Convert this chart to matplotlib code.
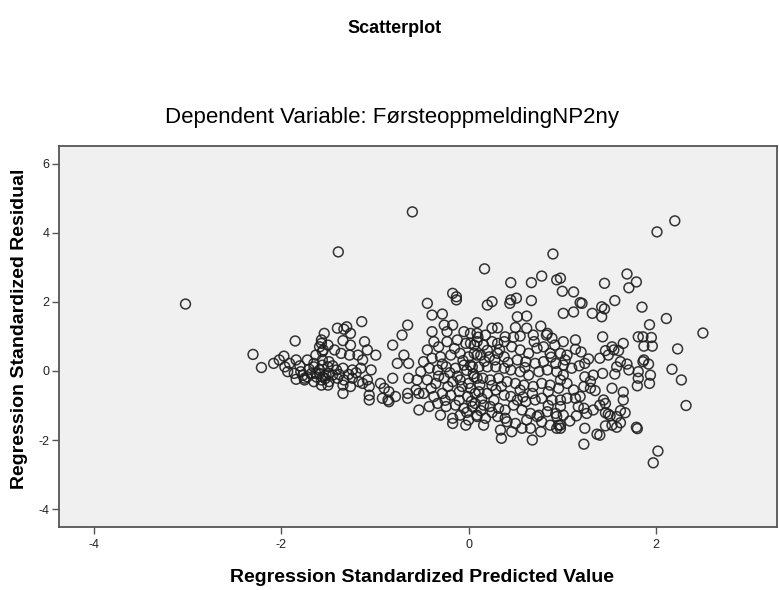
import matplotlib
matplotlib.use("Agg")
import matplotlib.pyplot as plt

plt.rcParams['font.family'] = ['Liberation Sans', 'DejaVu Sans']

title_text = "Scatterplot"
subtitle_text = "Dependent Variable: FørsteoppmeldingNP2ny"
x_label = "Regression Standardized Predicted Value"
y_label = "Regression Standardized Residual"
x_ticks = [-4, -2, 0, 2]
y_ticks = [-4, -2, 0, 2, 4, 6]

# (predicted, residual) pairs
outlier_points = [(-3.02, 1.94), (-1.39, 3.45), (-0.60, 4.61), (2.20, 4.35), (2.01, 4.03),
                  (2.50, 1.10), (0.90, 3.39), (0.17, 2.96)]

right_points = [(1.45, 2.54), (1.69, 2.81), (1.79, 2.58), (1.71, 2.41), (1.56, 2.04), (1.85, 1.85),
                (2.11, 1.52), (1.93, 1.34), (1.42, 1.86), (1.45, 1.80), (1.42, 1.57), (1.43, 0.99),
                (1.81, 0.99), (1.86, 0.99), (1.95, 0.97), (1.87, 0.72), (1.96, 0.72), (2.23, 0.64),
                (1.65, 0.80), (1.53, 0.70), (1.46, 0.59), (1.55, 0.61), (1.49, 0.46), (1.60, 0.59),
                (1.40, 0.37), (1.87, 0.32), (1.86, 0.27), (1.92, 0.20), (1.62, 0.27), (1.69, 0.20),
                (1.71, 0.03), (1.58, 0.12), (1.56, -0.09), (1.43, -0.07), (1.81, -0.02), (1.81, -0.21),
                (1.80, -0.43), (1.94, -0.12), (1.93, -0.36), (2.17, 0.05), (2.27, -0.26), (2.32, -1.00),
                (1.53, -0.50), (1.65, -0.61), (1.65, -0.84), (1.44, -0.84), (1.46, -0.94), (1.40, -0.99),
                (1.46, -1.21), (1.49, -1.25), (1.62, -1.15), (1.67, -1.21), (1.58, -1.32), (1.46, -1.59),
                (1.53, -1.57), (1.58, -1.63), (1.62, -1.50), (1.40, -1.86), (1.79, -1.63), (1.80, -1.67),
                (2.02, -2.32), (1.97, -2.66)]

mid_right_points = [(1.19, 1.98), (1.21, 1.96), (1.01, 1.67), (1.12, 1.71), (1.32, 1.67), (1.01, 0.85),
                    (1.14, 0.90), (1.14, 0.63), (0.98, 0.51), (1.05, 0.46), (1.03, 0.32), (1.10, 0.08),
                    (0.98, -0.26), (1.24, 0.22), (1.24, -0.17), (1.33, -0.12), (1.23, -0.45), (1.30, -0.50),
                    (1.35, -0.57), (1.19, -0.74), (1.05, -0.79), (1.14, -0.79), (0.98, -0.84), (0.98, -1.03),
                    (1.17, -1.03), (1.23, -1.08), (1.33, -1.13), (1.26, -1.23), (1.51, -1.30), (0.98, -1.57),
                    (0.98, -1.66), (1.24, -1.66), (1.37, -1.83), (1.23, -2.12),
                    (0.70, 0.85), (0.92, 0.75), (1.20, 0.55), (1.28, 0.35), (1.18, 0.15), (1.30, -0.30),
                    (1.12, -0.55), (0.85, -0.60), (0.68, -0.65), (0.55, -0.55), (0.60, 0.10), (0.88, 0.40),
                    (1.08, -1.45), (1.15, -1.30), (0.85, -1.00), (0.58, -0.75)]

upper_mid_points = [(0.45, 2.56), (0.67, 2.56), (0.78, 2.75), (0.94, 2.64), (0.98, 2.69), (1.00, 2.31),
                    (1.12, 2.29), (0.20, 1.91), (0.25, 2.01), (0.45, 2.06), (0.51, 2.11), (0.44, 1.96),
                    (0.67, 2.04), (0.52, 1.57), (0.62, 1.59), (0.09, 1.40), (0.25, 1.24), (0.31, 1.25),
                    (0.50, 1.26), (0.62, 1.24), (0.77, 1.30), (0.83, 1.04), (0.69, 1.04), (0.35, -1.95),
                    (0.68, -2.00)]

center_right_points = [(0.02, 1.09), (0.09, 1.09), (0.18, 1.04), (0.39, 0.99), (0.48, 0.98), (0.55, 1.01),
                       (0.84, 1.09), (0.89, 0.95), (0.02, 0.80), (0.09, 0.85), (0.16, 0.75), (0.25, 0.85),
                       (0.31, 0.80), (0.38, 0.85), (0.46, 0.70), (0.55, 0.61), (0.64, 0.51), (0.73, 0.66),
                       (0.80, 0.70), (0.87, 0.51), (0.06, 0.51), (0.13, 0.46), (0.22, 0.41), (0.31, 0.51),
                       (0.38, 0.41), (0.52, 0.32), (0.61, 0.27), (0.71, 0.22), (0.80, 0.27), (0.93, 0.22),
                       (1.01, 0.17), (0.02, 0.17), (0.11, 0.12), (0.20, 0.12), (0.29, 0.12), (0.38, 0.08),
                       (0.45, 0.03), (0.55, -0.02), (0.64, -0.12), (0.75, -0.02), (0.84, 0.03), (0.94, -0.02),
                       (1.01, -0.12), (0.06, -0.17), (0.15, -0.21), (0.23, -0.26), (0.32, -0.21), (0.41, -0.31),
                       (0.50, -0.36), (0.59, -0.41), (0.69, -0.45), (0.78, -0.36), (0.87, -0.41), (0.96, -0.50),
                       (1.05, -0.36), (0.02, -0.50), (0.11, -0.60), (0.20, -0.65), (0.29, -0.55), (0.38, -0.70),
                       (0.45, -0.74), (0.52, -0.84), (0.61, -0.89), (0.71, -0.84), (0.78, -0.79), (0.89, -0.84),
                       (0.07, -0.94), (0.16, -0.99), (0.23, -1.03), (0.32, -1.08), (0.39, -1.13), (0.48, -0.99),
                       (0.57, -1.13), (0.66, -1.23), (0.75, -1.28), (0.84, -1.18), (0.93, -1.23), (1.01, -1.28),
                       (0.09, -1.28), (0.18, -1.37), (0.31, -1.32), (0.39, -1.37), (0.41, -1.47), (0.50, -1.52),
                       (0.62, -1.42), (0.73, -1.32), (0.78, -1.47), (0.87, -1.57), (0.94, -1.32), (0.96, -1.57),
                       (0.16, -1.57), (0.34, -1.71), (0.46, -1.76), (0.57, -1.66), (0.66, -1.66), (0.77, -1.76),
                       (0.94, -1.66)]

center_left_points = [(-0.44, 1.96), (-0.13, 2.06), (-0.39, 1.62), (-0.28, 1.65), (-0.65, 1.33), (-0.71, 1.04),
                      (-0.81, 0.75), (-0.39, 1.14), (-0.26, 1.33), (-0.17, 1.33), (-0.23, 1.14), (-0.05, 1.14),
                      (-0.69, 0.46), (-0.76, 0.22), (-0.64, 0.22), (-0.44, 0.61), (-0.37, 0.85), (-0.32, 0.70),
                      (-0.23, 0.85), (-0.12, 0.90), (-0.03, 0.80), (0.06, 0.75), (-0.48, 0.27), (-0.39, 0.37),
                      (-0.30, 0.41), (-0.19, 0.46), (-0.09, 0.51), (0.00, 0.41), (0.09, 0.46), (-0.51, -0.02),
                      (-0.42, 0.08), (-0.33, 0.03), (-0.24, 0.12), (-0.14, 0.08), (-0.05, 0.17), (0.04, 0.12),
                      (-0.81, -0.21), (-0.64, -0.21), (-0.55, -0.26), (-0.44, -0.26), (-0.35, -0.36),
                      (-0.26, -0.21), (-0.17, -0.31), (-0.09, -0.26), (0.00, -0.36), (0.09, -0.21),
                      (-0.90, -0.50), (-0.85, -0.60), (-0.78, -0.74), (-0.86, -0.84), (-0.65, -0.65),
                      (-0.56, -0.55), (-0.48, -0.65), (-0.37, -0.74), (-0.28, -0.65), (-0.19, -0.70),
                      (-0.10, -0.60), (-0.01, -0.74), (0.07, -0.65), (-0.53, -1.13), (-0.42, -1.03),
                      (-0.33, -0.94), (-0.24, -1.03), (-0.14, -0.99), (-0.05, -1.08), (0.04, -1.03),
                      (-0.30, -1.28), (-0.17, -1.37), (-0.09, -1.28), (0.00, -1.42), (0.09, -1.32),
                      (-0.03, -1.57), (-0.17, -1.52), (-0.17, 2.25), (-0.13, 2.15)]

center_dense_points = [(-0.28, 0.20), (-0.20, -0.05), (-0.12, -0.15), (-0.02, 0.02), (0.05, -0.08),
                       (0.12, -0.40), (0.17, 0.28), (0.25, -0.42), (0.20, 0.60), (-0.06, 0.30),
                       (0.14, -0.80), (0.27, -0.85), (-0.22, -0.45), (-0.07, -0.45), (0.03, -0.88),
                       (-0.10, -0.85), (0.10, 0.98), (-0.15, 0.65), (0.33, 0.62), (0.35, -0.45),
                       (-0.02, -1.20), (0.13, -1.15), (0.25, -1.20), (-0.25, -0.85), (-0.40, -0.50),
                       (-0.32, -0.15), (0.42, 0.25), (0.28, 0.32)]

left_points = [(-1.14, 1.43), (-1.40, 1.24), (-1.33, 1.21), (-1.30, 1.28), (-1.26, 1.09), (-1.54, 1.09),
               (-1.57, 0.90), (-1.59, 0.70), (-1.55, 0.61), (-1.34, 0.88), (-1.26, 0.75), (-1.11, 0.85),
               (-1.08, 0.61), (-0.99, 0.46), (-1.43, 0.61), (-1.36, 0.51), (-1.27, 0.46), (-1.18, 0.46),
               (-1.13, 0.32), (-1.72, 0.32), (-1.63, 0.46), (-1.65, 0.22), (-1.56, 0.32), (-1.49, 0.27),
               (-1.04, 0.03), (-1.15, 0.08), (-1.24, 0.03), (-1.34, 0.08), (-1.41, 0.03), (-1.79, -0.02),
               (-1.72, -0.17), (-1.63, -0.07), (-1.56, -0.17), (-1.49, -0.07), (-1.75, -0.26), (-1.65, -0.31),
               (-1.57, -0.26), (-1.49, -0.31), (-1.40, -0.21), (-1.33, -0.26), (-1.24, -0.21), (-1.17, -0.31),
               (-1.08, -0.26), (-1.34, -0.41), (-1.26, -0.45), (-1.13, -0.36), (-1.06, -0.45), (-0.94, -0.36),
               (-1.34, -0.65), (-1.06, -0.70), (-1.06, -0.84), (-0.92, -0.79), (-0.85, -0.89), (-0.53, -0.65),
               (-0.65, -0.79), (-1.70, 0.05), (-1.62, -0.18), (-1.53, -0.22), (-1.45, -0.12), (-1.68, -0.08),
               (-1.80, 0.15), (-1.38, -0.10), (-1.28, -0.10), (-1.20, -0.05), (-1.45, 0.15), (-1.77, -0.13)]

far_left_points = [(-2.30, 0.48), (-2.21, 0.10), (-2.08, 0.22), (-2.02, 0.32), (-1.97, 0.43), (-1.85, 0.87),
                   (-1.96, 0.12), (-1.91, 0.22), (-1.84, 0.32), (-1.93, -0.02), (-1.86, -0.07), (-1.84, -0.24),
                   (-1.57, 0.80), (-1.56, 0.56), (-1.50, 0.75), (-1.75, -0.21), (-1.59, -0.07), (-1.52, -0.12),
                   (-1.57, -0.41), (-1.50, -0.41), (-1.65, 0.12), (-1.56, 0.17), (-1.50, 0.12), (-1.59, 0.03)]

all_points = (outlier_points + right_points + mid_right_points + upper_mid_points +
              center_right_points + center_left_points + center_dense_points +
              left_points + far_left_points)
pred_values = [p[0] for p in all_points]
resid_values = [p[1] for p in all_points]

fig = plt.figure(figsize=(7.79, 5.90), dpi=100)
ax = fig.add_axes([0.0757, 0.1068, 0.9217, 0.6458])
ax.set_facecolor('#f0f0f0')

ax.scatter(pred_values, resid_values, s=50, facecolors='none', edgecolors='#1f1f1f',
           linewidths=1.1, alpha=0.9, zorder=3)

ax.set_xlim(-4.37, 3.29)
ax.set_ylim(-4.52, 6.52)
ax.set_xticks(x_ticks)
ax.set_yticks(y_ticks)
ax.set_xticklabels([str(t) for t in x_ticks])
ax.set_yticklabels([str(t) for t in y_ticks])
ax.tick_params(direction='out', length=5, width=1.0, color='#555555', labelsize=9,
               labelcolor='#222222', pad=2)
ax.tick_params(axis='x', pad=4)

for side in ['left', 'bottom', 'top', 'right']:
    ax.spines[side].set_color('#555555')
    ax.spines[side].set_linewidth(1.3)

ax.set_xlabel(x_label, fontsize=14, fontweight='bold')
ax.set_ylabel(y_label, fontsize=14, fontweight='bold')
ax.xaxis.set_label_coords(0.506, -0.11)
ax.yaxis.set_label_coords(-0.043, 0.52)

fig.text(0.507, 0.952, title_text, ha='center', va='center', fontsize=13, fontweight='bold')
fig.text(0.503, 0.800, subtitle_text, ha='center', va='center', fontsize=16)

fig.savefig('out.png', dpi=100)
